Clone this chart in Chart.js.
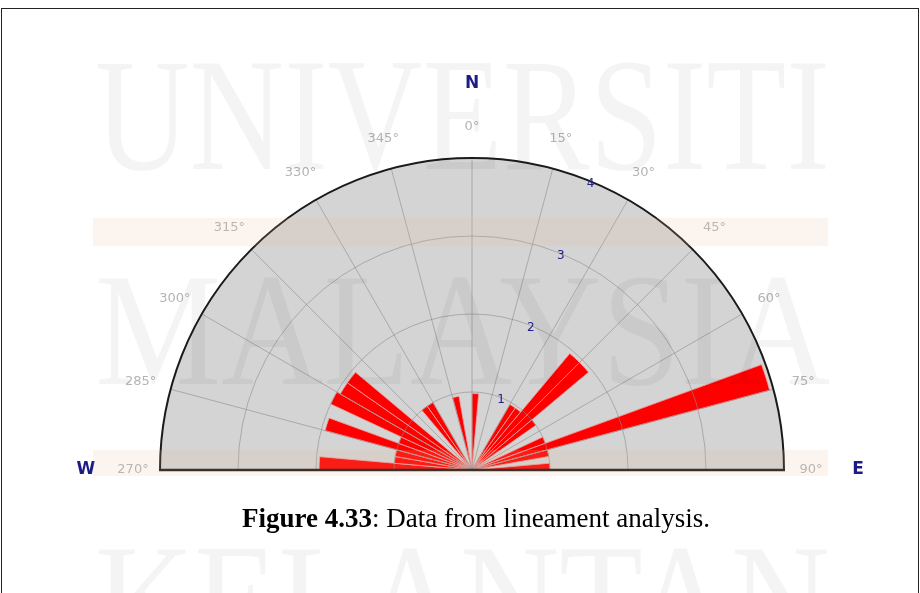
<!DOCTYPE html>
<html>
<head>
<meta charset="utf-8">
<script src="https://cdn.jsdelivr.net/npm/chart.js@4/dist/chart.umd.min.js"></script>
<style>
  html, body { margin: 0; padding: 0; background: #ffffff; overflow: hidden; }
  #wrap { position: relative; width: 920px; height: 593px; overflow: hidden; background: #ffffff; }
  #rose { position: absolute; left: 0; top: 0; }
  #frame { position: absolute; left: 1px; top: 8px; width: 916px; height: 600px;
           border-left: 1px solid #222; border-top: 1px solid #222; border-right: 1px solid #222; pointer-events: none; }
</style>
</head>
<body>
<div id="wrap">
  <canvas id="rose" width="920" height="940"></canvas>
  <div id="frame"></div>
</div>
<script>
// ---------------- DATA ----------------
// 5-degree direction bins (start azimuth), clockwise from W (270°) through N to E, then the empty lower half
const binStarts = [
  270, 275, 280, 285, 290, 295, 300, 305, 310, 315, 320, 325,
  330, 335, 340, 345, 350, 355, 0, 5, 10, 15, 20, 25,
  30, 35, 40, 45, 50, 55, 60, 65, 70, 75, 80, 85,
  90, 95, 100, 105, 110, 115, 120, 125, 130, 135, 140, 145,
  150, 155, 160, 165, 170, 175, 180, 185, 190, 195, 200, 205,
  210, 215, 220, 225, 230, 235, 240, 245, 250, 255, 260, 265
];
// lineament frequency per bin
const lineamentCounts = [
  1.96, 1.0, 1.0, 1.95, 1.0, 2.0, 1.95, 1.95, 0, 0, 1.0, 1.0,
  0, 0, 0, 0.96, 0, 0, 0.98, 0, 0, 0, 0, 0,
  0.97, 0.97, 1.95, 1.95, 1.0, 0, 0, 1.0, 3.95, 1.0, 0, 1.0,
  0, 0, 0, 0, 0, 0, 0, 0, 0, 0, 0, 0,
  0, 0, 0, 0, 0, 0, 0, 0, 0, 0, 0, 0,
  0, 0, 0, 0, 0, 0, 0, 0, 0, 0, 0, 0
];
// direction tick labels
const dirAngles = [270, 285, 300, 315, 330, 345, 0, 15, 30, 45, 60, 75, 90];
const dirLabels = ['270°', '285°', '300°', '315°', '330°', '345°', '0°', '15°', '30°', '45°', '60°', '75°', '90°'];
// ring (frequency) tick labels
const ringValues = [1, 2, 3, 4];
const ringLabels = ['1', '2', '3', '4'];
// compass letters
const compassAngles = [270, 0, 90];
const compassLabels = ['W', 'N', 'E'];
// caption and watermark text
const captionBold = 'Figure 4.33';
const captionRest = ': Data from lineament analysis.';
const watermarkLines = ['UNIVERSITI', 'MALAYSIA', 'KELANTAN'];

// ---------------- HELPERS ----------------
function indexForAzimuth(a) { return binStarts.indexOf(a); }

const rosePlugin = {
  id: 'rosePlugin',
  beforeDatasetsDraw(chart) {
    const s = chart.scales.r;
    const ctx = chart.ctx;
    const R = s.getDistanceFromCenterForValue(s.max);
    ctx.save();
    ctx.beginPath();
    ctx.moveTo(s.xCenter - R, s.yCenter);
    ctx.arc(s.xCenter, s.yCenter, R, Math.PI, 2 * Math.PI);
    ctx.closePath();
    ctx.fillStyle = '#d4d4d4';
    ctx.fill();
    ctx.restore();
  },
  afterDatasetsDraw(chart) {
    const s = chart.scales.r;
    const ctx = chart.ctx;
    const cx = s.xCenter, cy = s.yCenter;
    const R = s.getDistanceFromCenterForValue(s.max);
    ctx.save();
    // rings
    ctx.strokeStyle = 'rgba(140,140,140,0.6)';
    ctx.lineWidth = 1;
    ringValues.forEach(v => {
      if (v >= s.max) return;
      const r = s.getDistanceFromCenterForValue(v);
      ctx.beginPath();
      ctx.arc(cx, cy, r, Math.PI, 2 * Math.PI);
      ctx.stroke();
    });
    // spokes
    dirAngles.forEach(a => {
      if (a === 270 || a === 90) return;
      const p = s.getPointPosition(indexForAzimuth(a), R);
      ctx.beginPath();
      ctx.moveTo(cx, cy);
      ctx.lineTo(p.x, p.y);
      ctx.stroke();
    });
    // outline
    ctx.strokeStyle = '#1a1a1a';
    ctx.lineWidth = 2;
    ctx.beginPath();
    ctx.arc(cx, cy, R, Math.PI, 2 * Math.PI);
    ctx.stroke();
    ctx.lineWidth = 2.5;
    ctx.beginPath();
    ctx.moveTo(cx - R - 1, cy);
    ctx.lineTo(cx + R + 1, cy);
    ctx.stroke();

    // ring labels along 22.5°
    const labIdx = indexForAzimuth(20) + 0.5;
    ctx.fillStyle = '#22228a';
    ctx.font = '12px "DejaVu Sans", sans-serif';
    ctx.textAlign = 'center';
    ctx.textBaseline = 'middle';
    ringValues.forEach((v, i) => {
      const p = s.getPointPosition(labIdx, s.getDistanceFromCenterForValue(v) - 2);
      ctx.fillText(ringLabels[i], p.x, p.y);
    });

    // direction labels
    ctx.fillStyle = '#b4b4b4';
    ctx.font = '13px "DejaVu Sans", sans-serif';
    dirAngles.forEach((a, i) => {
      const d = (a === 270 || a === 90) ? 339 : 343;
      const p = s.getPointPosition(indexForAzimuth(a), d);
      ctx.fillText(dirLabels[i], p.x, p.y);
    });

    // compass letters
    ctx.fillStyle = '#1c1c84';
    ctx.font = 'bold 17px "DejaVu Sans", sans-serif';
    compassAngles.forEach((a, i) => {
      const p = s.getPointPosition(indexForAzimuth(a), 386);
      ctx.fillText(compassLabels[i], p.x, p.y);
    });
    ctx.restore();
  },
  afterDraw(chart) {
    const ctx = chart.ctx;
    ctx.save();
    // beige bands
    ctx.fillStyle = 'rgba(235,190,150,0.15)';
    ctx.fillRect(93, 218, 735, 28);
    ctx.fillRect(93, 450, 735, 26);

    // watermark
    ctx.fillStyle = 'rgba(0,0,0,0.045)';
    ctx.textAlign = 'left';
    ctx.textBaseline = 'alphabetic';
    ctx.font = '160px "Liberation Serif", serif';
    const wmBase = [169, 384, 655];
    watermarkLines.forEach((t, i) => {
      const w = ctx.measureText(t).width;
      ctx.save();
      ctx.translate(95, wmBase[i]);
      ctx.scale(735 / w, 1);
      ctx.fillText(t, 0, 0);
      ctx.restore();
    });

    // caption
    ctx.fillStyle = '#000000';
    const fs = 27;
    ctx.font = 'bold ' + fs + 'px "Liberation Serif", serif';
    const wb = ctx.measureText(captionBold).width;
    ctx.font = fs + 'px "Liberation Serif", serif';
    const wr = ctx.measureText(captionRest).width;
    const x0 = 476 - (wb + wr) / 2;
    ctx.font = 'bold ' + fs + 'px "Liberation Serif", serif';
    ctx.fillText(captionBold, x0, 527);
    ctx.font = fs + 'px "Liberation Serif", serif';
    ctx.fillText(captionRest, x0 + wb, 527);
    ctx.restore();
  }
};

new Chart(document.getElementById('rose'), {
  type: 'polarArea',
  data: {
    labels: binStarts.map(a => a + '°'),
    datasets: [{
      data: lineamentCounts,
      backgroundColor: '#ff0000',
      borderColor: 'rgba(235,160,160,0.85)',
      borderWidth: 1
    }]
  },
  options: {
    responsive: false,
    animation: false,
    events: [],
    layout: { padding: { left: 160, right: 136, top: 158, bottom: 158 } },
    plugins: { legend: { display: false }, tooltip: { enabled: false } },
    scales: {
      r: {
        min: 0,
        max: 4,
        startAngle: 270,
        grid: { display: false },
        angleLines: { display: false },
        pointLabels: { display: false },
        ticks: { display: false }
      }
    }
  },
  plugins: [rosePlugin]
});
</script>
</body>
</html>
